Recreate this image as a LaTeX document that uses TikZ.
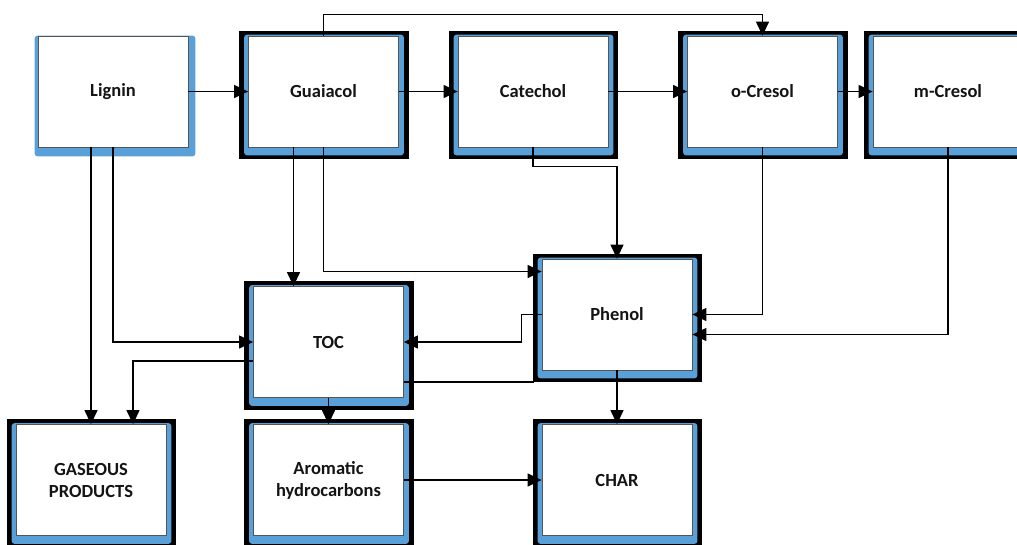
\documentclass[tikz,border=0pt]{standalone}
\usepackage{fontspec}
\setmainfont{Carlito}
\usepackage{xcolor}
\usetikzlibrary{arrows.meta,positioning,calc,backgrounds}
\definecolor{lgBlue} {RGB}{ 88,160,215}
\definecolor{lgGrey} {RGB}{ 85, 85, 85}
\definecolor{lgText} {RGB}{ 20, 20, 20}

\begin{document}
\begin{tikzpicture}[
  x=1pt,y=-1pt,
  every node/.style={font=\fontsize{18.5}{22}\selectfont\bfseries},
  cmp/.style={draw=lgGrey,line width=0.8pt,fill=white,text=lgText,
              minimum width=150pt,minimum height=111pt,align=center,
              inner sep=0pt},
  link/.style={line width=1.3pt,black},
  arr/.style={link,-{Triangle[length=14pt,width=13pt]}}
]
\useasboundingbox (0,0) rectangle (1017,544);

\node[cmp] (Lignin)   at (113,91.5)  {Lignin};
\node[cmp] (Guaiacol) at (323.5,91.5){Guaiacol};
\node[cmp] (Catechol) at (533,91.5)  {Catechol};
\node[cmp] (oCresol)  at (762.5,91.5){o-Cresol};
\node[cmp] (mCresol)  at (948,91.5)  {m-Cresol};
\node[cmp] (Phenol)   at (617,314.5) {Phenol};
\node[cmp] (TOC)      at (328.5,342) {TOC};
\node[cmp] (Gas)      at (91,480)    {GASEOUS\\PRODUCTS};
\node[cmp] (Arom)     at (328.5,480) {Aromatic\\hydrocarbons};
\node[cmp] (Char)     at (617,480)   {CHAR};

\begin{scope}[on background layer]
  \foreach \n in {Guaiacol,Catechol,oCresol,mCresol,Phenol,TOC,Gas,Arom,Char}{
    \fill[black] ($(\n.north west)+(-9,-5)$) rectangle ($(\n.south east)+(10,12)$);
    \fill[lgBlue,rounded corners=3pt] ($(\n.north west)+(-4,-1)$) rectangle ($(\n.south east)+(5,8)$);
  }
  \fill[lgBlue,rounded corners=3pt] ($(Lignin.north west)+(-3,0)$) rectangle ($(Lignin.south east)+(7,9)$);
\end{scope}

\coordinate (gt) at ($(Guaiacol.south)+(-30,0)$);
\coordinate (tp) at ([yshift=-40pt]TOC.east);

\draw[arr] (Lignin) -- (Guaiacol);
\draw[arr] (Guaiacol) -- (Catechol);
\draw[arr] (Catechol) -- (oCresol);
\draw[arr] (oCresol) -- (mCresol);
\draw[arr] (Guaiacol.north) -- ++(0,-21) -| (oCresol.north);
\draw[arr] (Lignin.south) |- (TOC.west);
\draw[arr] (Lignin.south -| Gas.north) -- (Gas.north);
\draw[arr] (gt) -- (gt |- TOC.north);
\draw[arr] (Guaiacol.south) |- ([yshift=43pt]Phenol.west);
\draw[arr] (Catechol.south) -- ++(0,19) -| (Phenol.north);
\draw[arr] (oCresol.south) |- (Phenol.east);
\draw[arr] (mCresol.south) |- ([yshift=-20pt]Phenol.east);
\draw[arr] (Phenol.west) -- ++(-20,0) |- (TOC.east);
\draw[link] (tp) -- ($(tp -| Phenol.west)+(-8,0)$);
\draw[arr] ([yshift=-19pt]TOC.west) -| ([xshift=42pt]Gas.north);
\draw[arr] (TOC.south) -- (Arom.north);
\draw[arr] (Phenol.south) -- (Char.north);
\draw[arr] (Arom.east) -- (Char.west);
\end{tikzpicture}
\end{document}
